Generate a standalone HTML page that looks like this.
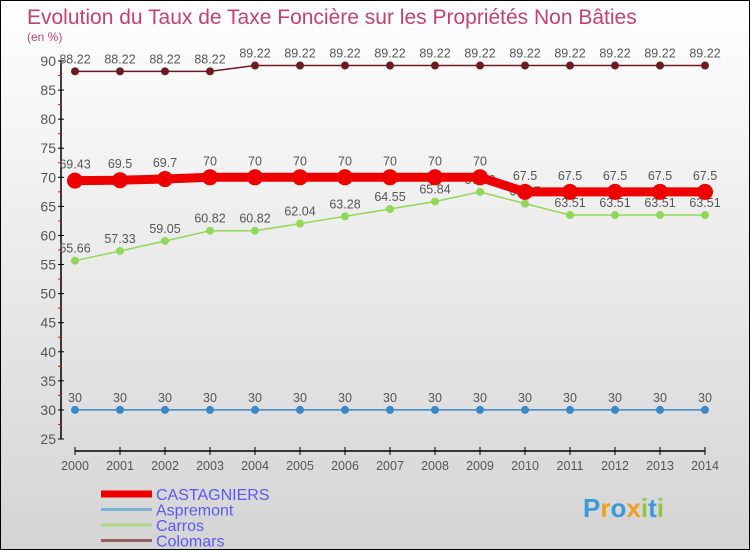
<!DOCTYPE html>
<html><head><meta charset="utf-8"><style>
body{margin:0}
#c{width:748px;height:548px;border:1px solid #000;background:linear-gradient(#fff,#d4d4d4);position:relative;font-family:"Liberation Sans",sans-serif}
svg{position:absolute;left:0;top:0}
</style></head><body>
<div id="c">
<svg id="s" width="748" height="548"></svg>
</div>
<script>
const years=[2000,2001,2002,2003,2004,2005,2006,2007,2008,2009,2010,2011,2012,2013,2014];
const yTicks=[25,30,35,40,45,50,55,60,65,70,75,80,85,90];
const castagniers=[69.43,69.5,69.7,70,70,70,70,70,70,70,67.5,67.5,67.5,67.5,67.5];
const aspremont=[30,30,30,30,30,30,30,30,30,30,30,30,30,30,30];
const carros=[55.66,57.33,59.05,60.82,60.82,62.04,63.28,64.55,65.84,67.49,65.47,63.51,63.51,63.51,63.51];
const colomars=[88.22,88.22,88.22,88.22,89.22,89.22,89.22,89.22,89.22,89.22,89.22,89.22,89.22,89.22,89.22];
const s=document.getElementById('s');const NS='http://www.w3.org/2000/svg';
function X(i){return 74+i*45}
function Y(v){return 60+(90-v)*(378/65)}
function el(t,a,txt){const e=document.createElementNS(NS,t);for(const k in a)e.setAttribute(k,a[k]);if(txt!==undefined)e.textContent=txt;s.appendChild(e);return e}
let e;
e=el('text',{x:26,y:23,fill:'#c8406f','font-size':21},'Evolution du Taux de Taxe Foncière sur les Propriétés Non Bâties');


e=el('text',{x:26,y:40,fill:'#c8406f','font-size':12},'(en %)');


e=el('line',{x1:60,y1:Y(90),x2:60,y2:Y(25),stroke:'#000','stroke-width':1.5});


e=el('line',{x1:X(0),y1:450,x2:X(14),y2:450,stroke:'#000','stroke-width':1.5});


yTicks.forEach(v=>{
  el('line',{x1:57,y1:Y(v),x2:63,y2:Y(v),stroke:'#000'});
  if(v<90) el('line',{x1:57,y1:Y(v+2.5),x2:60,y2:Y(v+2.5),stroke:'#f00'});
  e=el('text',{x:55,y:Y(v)+5,'text-anchor':'end','font-size':14,fill:'#555'},v);
  
  
});
years.forEach((y,i)=>{
  el('line',{x1:X(i),y1:446,x2:X(i),y2:454,stroke:'#000'});
  e=el('text',{x:X(i),y:469,'text-anchor':'middle','font-size':12.5,fill:'#555'},y);
  
  
});
function series(d,col,w,r,name,dy){
  const p=el('polyline',{points:d.map((v,i)=>X(i)+','+Y(v)).join(' '),fill:'none',stroke:col,'stroke-width':w});
  
  
  d.forEach((v,i)=>{
    const c=el('circle',{cx:X(i),cy:Y(v),r:r,fill:col});
    
    
    const t=el('text',{x:X(i),y:Y(v)+dy,'text-anchor':'middle','font-size':12.5,fill:'#555'},String(v));
    
    
  });
}
series(colomars,'#6e1a22',1.5,4,'colomars',-8);
series(carros,'#8fd858',1.5,4,'carros',-8);
series(aspremont,'#3a88c8',1.5,4,'aspremont',-8);
series(castagniers,'#ee0000',9,8,'castagniers',-12);
const leg=[['CASTAGNIERS','#ee0000',7],['Aspremont','#7ab0d0',3],['Carros','#a8d888',3],['Colomars','#906060',3]];
leg.forEach((l,i)=>{
  const y=493+i*15.5;
  e=el('line',{x1:100,y1:y,x2:151,y2:y,stroke:l[1],'stroke-width':l[2]});
  
  
  e=el('text',{x:155,y:y+6,'font-size':16,fill:'#5a5af0'},l[0]);
  
  
});
const logo=el('text',{x:582,y:516,'font-size':26,'font-weight':'bold'});


[['P','#3a9ad8'],['r','#f0a020'],['o','#3a9ad8'],['x','#f0a020'],['i','#90c840'],['t','#3a9ad8'],['i','#90c840']].forEach(c=>{
  const t=document.createElementNS(NS,'tspan');t.setAttribute('fill',c[1]);t.textContent=c[0];logo.appendChild(t);
});
</script>
</body></html>
